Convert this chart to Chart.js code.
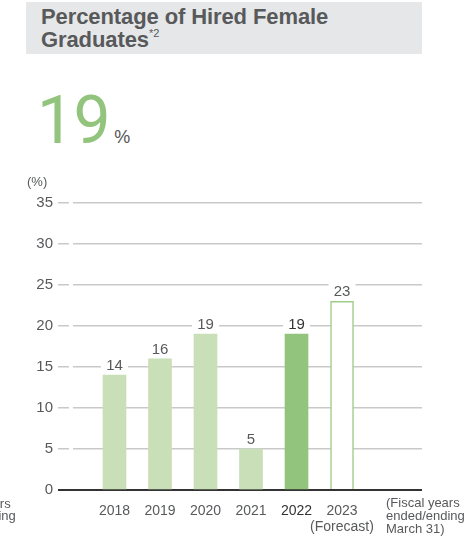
<!DOCTYPE html>
<html>
<head>
<meta charset="utf-8">
<script src="https://cdn.jsdelivr.net/npm/chart.js@4/dist/chart.umd.min.js"></script>
<style>
  html, body { margin: 0; padding: 0; background: #fff; }
  body { width: 474px; height: 540px; position: relative; overflow: hidden; font-family: 'Liberation Sans', Arial, sans-serif; }
  .head { position: absolute; left: 26px; top: 2px; width: 396px; height: 52px; background: #e6e7e8; box-sizing: border-box; padding: 4px 0 0 15px; color: #58595b; font: bold 22px/22.5px 'Liberation Sans', Arial, sans-serif; letter-spacing: -0.1px; }
  .head sup { font-size: 11px; font-weight: normal; vertical-align: 10px; line-height: 0; letter-spacing: 0; }
  .big { position: absolute; left: 37px; top: 88px; line-height: 66px; white-space: nowrap; }
  .big .num { font: 400 66px/66px Roboto, 'Liberation Sans', sans-serif; color: #93c47d; letter-spacing: -0.5px; }
  .big .pct { font: 18px 'Liberation Sans', Arial, sans-serif; color: #555; margin-left: 4px; }
  #chart { position: absolute; left: 0; top: 0; }
</style>
</head>
<body>
<div class="head">Percentage of Hired Female<br>Graduates<sup>*2</sup></div>
<div class="big"><span class="num" id="big-num"></span><span class="pct">%</span></div>
<canvas id="chart" width="474" height="540"></canvas>
<script>
// fiscal years ended/ending March 31
var years = ['2018', '2019', '2020', '2021', '2022', '2023'];
var yearNotes = ['', '', '', '', '', '(Forecast)'];
var hiredFemalePct = [14, 16, 19, 5, 19, 23];
var yTicks = [0, 5, 10, 15, 20, 25, 30, 35];
var latestIdx = 4;      // last actual result
var forecastIdx = 5;    // plan value, drawn hollow

var FONT = "'Liberation Sans', Arial, sans-serif";
var TXT = '#58595b', DARK = '#333333', GRID = '#c9c9c9';
var LIGHT_GREEN = '#c9dfb8', GREEN = '#93c47d';

document.getElementById('big-num').textContent = hiredFemalePct[latestIdx];

var barColors = hiredFemalePct.map(function(v, i) {
  if (i === forecastIdx) return '#ffffff';
  return i === latestIdx ? GREEN : LIGHT_GREEN;
});

// value labels above each bar, knocked out of the grid lines with a white box
var valueLabels = {
  id: 'valueLabels',
  afterDatasetsDraw: function(chart) {
    var ctx = chart.ctx;
    var meta = chart.getDatasetMeta(0);
    ctx.save();
    ctx.font = '15px ' + FONT;
    ctx.textAlign = 'center';
    ctx.textBaseline = 'alphabetic';
    meta.data.forEach(function(bar, i) {
      var base = bar.y - 5;
      ctx.fillStyle = '#fff';
      ctx.fillRect(bar.x - bar.width / 2 - 2, base - 14, bar.width + 4, 17);
      ctx.fillStyle = i === latestIdx ? DARK : TXT;
      ctx.fillText(String(hiredFemalePct[i]), bar.x, base);
    });
    ctx.restore();
  }
};

// unit over the y axis, period note after the x axis
var axisNotes = {
  id: 'axisNotes',
  afterDraw: function(chart) {
    var ctx = chart.ctx, a = chart.chartArea;
    var note = ['(Fiscal years', 'ended/ending', 'March 31)'];
    ctx.save();
    ctx.fillStyle = TXT;
    ctx.textBaseline = 'middle';
    ctx.textAlign = 'left';
    ctx.font = '13px ' + FONT;
    ctx.fillText('(%)', 27, a.top - 21);
    note.forEach(function(t, i) { ctx.fillText(t, a.right - 36, a.bottom + 13 + i * 13); });
    // tail of the neighbouring panel's note
    note.slice(0, 2).forEach(function(t, i) { ctx.fillText(t, -63, a.bottom + 14 + i * 12); });
    ctx.restore();
  }
};

function isZero(c) { return c.tick && c.tick.value === 0; }

new Chart(document.getElementById('chart'), {
  type: 'bar',
  data: {
    datasets: [{
      data: hiredFemalePct.map(function(v, i) { return { x: i + 1, y: v }; }),
      backgroundColor: barColors,
      borderColor: hiredFemalePct.map(function(v, i) { return i === forecastIdx ? '#9fcc88' : 'rgba(0,0,0,0)'; }),
      borderWidth: hiredFemalePct.map(function(v, i) { return i === forecastIdx ? 1.5 : 0; }),
      barThickness: 23
    }]
  },
  options: {
    responsive: false,
    devicePixelRatio: 1,
    animation: false,
    layout: { padding: { top: 203, right: 52, left: 0, bottom: 0 } },
    plugins: { legend: { display: false }, tooltip: { enabled: false } },
    scales: {
      x: {
        type: 'linear',
        offset: false,
        min: 0.088,
        max: 7.758,
        afterFit: function(s) { s.height = 50; },
        afterBuildTicks: function(s) { s.ticks = years.map(function(y, i) { return { value: i + 1 }; }); },
        grid: { display: false },
        border: { display: false },
        ticks: {
          padding: 5,
          autoSkip: false,
          maxRotation: 0,
          font: { family: FONT, size: 14, lineHeight: 1.15 },
          color: function(c) { return c.index === latestIdx ? DARK : TXT; },
          callback: function(v, i) { return yearNotes[i] ? [years[i], yearNotes[i]] : years[i]; }
        }
      },
      y: {
        min: 0,
        max: 35,
        afterFit: function(s) { s.width = 73; },
        afterBuildTicks: function(s) { s.ticks = yTicks.map(function(v) { return { value: v }; }); },
        border: { display: false },
        grid: {
          color: function(c) { return isZero(c) ? DARK : GRID; },
          tickColor: function(c) { return isZero(c) ? DARK : GRID; },
          lineWidth: function(c) { return isZero(c) ? 2 : 1.5; },
          tickWidth: function(c) { return isZero(c) ? 2 : 1.5; },
          tickLength: 15,
          tickBorderDash: function(c) { return isZero(c) ? [] : [11, 4]; }
        },
        ticks: { padding: 5, color: TXT, font: { family: FONT, size: 15 } }
      }
    }
  },
  plugins: [valueLabels, axisNotes]
});
</script>
</body>
</html>
